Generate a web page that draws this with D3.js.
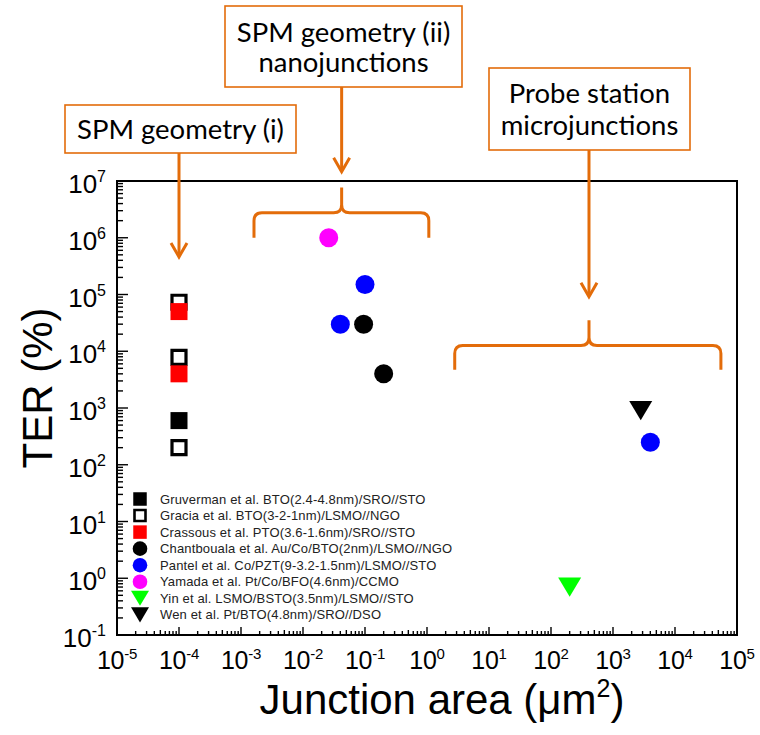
<!DOCTYPE html>
<html><head><meta charset="utf-8">
<script src="https://cdn.jsdelivr.net/npm/d3@7"></script>
<style>body{margin:0;background:#fff}svg{display:block}</style>
</head><body>
<svg id="c" width="760" height="735"></svg>
<script>
// ---------- data ----------
const xTickExps = [-5,-4,-3,-2,-1,0,1,2,3,4,5];
const yTickExps = [-1,0,1,2,3,4,5,6,7];
const seriesNames = [
  "Gruverman et al. BTO(2.4-4.8nm)/SRO//STO",
  "Gracia et al. BTO(3-2-1nm)/LSMO//NGO",
  "Crassous et al. PTO(3.6-1.6nm)/SRO//STO",
  "Chantbouala et al. Au/Co/BTO(2nm)/LSMO//NGO",
  "Pantel et al. Co/PZT(9-3.2-1.5nm)/LSMO//STO",
  "Yamada et al. Pt/Co/BFO(4.6nm)/CCMO",
  "Yin et al. LSMO/BSTO(3.5nm)/LSMO//STO",
  "Wen et al. Pt/BTO(4.8nm)/SRO//DSO"
];
const seriesMarkers = ["square","openSquare","square","circle","circle","circle","triangleDown","triangleDown"];
const seriesColors = ["#000000","#000000","#ff0000","#000000","#0000ff","#ff00ff","#00ff00","#000000"];
const gruvermanX = [1e-4],               gruvermanY = [600];
const graciaX = [1e-4, 1e-4, 1e-4],      graciaY = [73000, 7800, 200];
const crassousX = [1e-4, 1e-4],          crassousY = [50000, 4000];
const chantboualaX = [0.095, 0.2],       chantboualaY = [30000, 4000];
const pantelX = [0.04, 0.1, 4000],       pantelY = [30000, 150000, 250];
const yamadaX = [0.026],                 yamadaY = [1e6];
const yinX = [200],                      yinY = [0.7];
const wenX = [2800],                     wenY = [900];
const seriesX = [gruvermanX, graciaX, crassousX, chantboualaX, pantelX, yamadaX, yinX, wenX];
const seriesY = [gruvermanY, graciaY, crassousY, chantboualaY, pantelY, yamadaY, yinY, wenY];
const xTitle = "Junction area (\u03bcm", xTitleSup = "2", xTitleEnd = ")";
const yTitle = "TER (%)";
const annotationTexts = [["SPM geometry (i)"], ["SPM geometry (ii)", "nanojunctions"], ["Probe station", "microjunctions"]];
// annotation anchors in data space: arrow x, arrow tip y; brace x-range, brace y levels (end, flat, cusp)
const arrowX = [1e-4, 0.042, 410];
const arrowTipY = [4.6e5, 1.45e7, 9.1e4];
const braceX0 = [null, 1.62e-3, 2.8];
const braceX1 = [null, 1.07, 5.5e4];
const braceEndY = [null, 1e6, 4700];
const braceFlatY = [null, 2.75e6, 12600];
const braceCuspY = [null, 7.7e6, 35000];

// ---------- layout ----------
const P = {l:117, t:181, r:737, b:635};
const ORANGE = "#e36c0a";
const boxes = [
  {x:65, y:105, w:231, h:48, lines:[139]},
  {x:225, y:6, w:237, h:81, lines:[42, 72]},
  {x:489, y:68, w:201, h:82, lines:[103, 135]}
];

const svg = d3.select("#c");
const x = d3.scaleLog().domain([1e-5, 1e5]).range([P.l, P.r]);
const y = d3.scaleLog().domain([1e-1, 1e7]).range([P.b, P.t]);

// ---------- markers ----------
function markerPath(type, cx, cy, s) {
  if (type === "square" || type === "openSquare") {
    const h = s/2; return `M${cx-h},${cy-h}H${cx+h}V${cy+h}H${cx-h}Z`;
  }
  if (type === "triangleDown") {
    const w = s/2, hh = s*0.42;
    return `M${cx-w},${cy-hh}L${cx+w},${cy-hh}L${cx},${cy+hh}Z`;
  }
}
function drawMarker(g, type, color, cx, cy, big) {
  if (type === "circle") {
    g.append("circle").attr("cx", cx).attr("cy", cy).attr("r", big ? 9.5 : 7.3).attr("fill", color);
  } else if (type === "openSquare") {
    const s = big ? 14 : 11;
    g.append("path").attr("d", markerPath("square", cx, cy, s)).attr("fill", "#fff")
      .attr("stroke", color).attr("stroke-width", big ? 3.2 : 2.6);
  } else if (type === "square") {
    g.append("path").attr("d", markerPath("square", cx, cy, big ? 17 : 13.5)).attr("fill", color);
  } else {
    g.append("path").attr("d", markerPath(type, cx, cy, big ? 23 : 18)).attr("fill", color);
  }
}

// ---------- frame + ticks ----------
const axG = svg.append("g");
for (let e = -1; e < 7; e++) for (let m = 1; m <= 9; m++) {
  const v = m * Math.pow(10, e), len = m === 1 ? 11 : 6;
  axG.append("line").attr("x1", P.l).attr("x2", P.l + len).attr("y1", y(v)).attr("y2", y(v))
    .attr("stroke", "#000").attr("stroke-width", 1.4);
}
for (let e = -5; e < 5; e++) for (let m = 1; m <= 9; m++) {
  const v = m * Math.pow(10, e), len = m === 1 ? 8 : (m === 5 ? 5 : 4);
  axG.append("line").attr("x1", x(v)).attr("x2", x(v)).attr("y1", P.b).attr("y2", P.b - len)
    .attr("stroke", "#000").attr("stroke-width", 1.4);
}
axG.append("rect").attr("x", P.l).attr("y", P.t).attr("width", P.r - P.l).attr("height", P.b - P.t)
  .attr("fill", "none").attr("stroke", "#000").attr("stroke-width", 2);

const FONT = "'Liberation Sans', Arial, sans-serif";
yTickExps.forEach(e => {
  const t = axG.append("text").attr("x", 106).attr("y", y(Math.pow(10, e)) + 12)
    .attr("text-anchor", "end").attr("font-family", FONT).attr("font-size", 26).attr("fill", "#000");
  t.append("tspan").text("10");
  t.append("tspan").attr("font-size", 16).attr("dy", -11).text(String(e));
});
xTickExps.forEach(e => {
  const t = axG.append("text").attr("x", x(Math.pow(10, e))).attr("y", 669)
    .attr("text-anchor", "middle").attr("font-family", FONT).attr("font-size", 25).attr("fill", "#000")
    .attr("letter-spacing", -0.3);
  t.append("tspan").text("10");
  t.append("tspan").attr("font-size", 15).attr("dy", -10).text(String(e));
});

// titles
svg.append("text").attr("transform", "translate(52,388) rotate(-90)").attr("text-anchor", "middle")
  .attr("font-family", FONT).attr("font-size", 42).text(yTitle);
const xt = svg.append("text").attr("x", 442).attr("y", 714).attr("text-anchor", "middle")
  .attr("font-family", FONT).attr("font-size", 42);
xt.append("tspan").text(xTitle);
xt.append("tspan").attr("font-size", 25).attr("dy", -17).text(xTitleSup);
xt.append("tspan").attr("dy", 17).text(xTitleEnd);

// ---------- data points ----------
const ptG = svg.append("g");
seriesNames.forEach((n, i) => {
  seriesX[i].forEach((xv, j) => drawMarker(ptG, seriesMarkers[i], seriesColors[i], x(xv), y(seriesY[i][j]), true));
});

// ---------- legend ----------
const lgG = svg.append("g");
seriesNames.forEach((n, i) => {
  const cy = 499 + i * 16.55;
  drawMarker(lgG, seriesMarkers[i], seriesColors[i], 140, cy, false);
  lgG.append("text").attr("x", 160).attr("y", cy + 4.5).attr("font-family", FONT)
    .attr("font-size", 13).attr("letter-spacing", 0.15).attr("fill", "#222").text(n);
});

// ---------- annotations ----------
const anG = svg.append("g");
boxes.forEach((b, i) => {
  anG.append("rect").attr("x", b.x).attr("y", b.y).attr("width", b.w).attr("height", b.h)
    .attr("fill", "#fff").attr("stroke", ORANGE).attr("stroke-width", 1.6);
  annotationTexts[i].forEach((ln, k) => {
    anG.append("text").attr("x", b.x + b.w / 2).attr("y", b.lines[k]).attr("text-anchor", "middle")
      .attr("font-family", "Lato, 'Open Sans', sans-serif").attr("font-size", 27.5).attr("fill", "#000").text(ln);
  });
  const ax = x(arrowX[i]), tip = y(arrowTipY[i]);
  anG.append("line").attr("x1", ax).attr("x2", ax).attr("y1", b.y + b.h).attr("y2", tip - 1)
    .attr("stroke", ORANGE).attr("stroke-width", 3);
  anG.append("path").attr("d", `M${ax-8},${tip-14}L${ax},${tip}L${ax+8},${tip-14}`)
    .attr("fill", "none").attr("stroke", ORANGE).attr("stroke-width", 3).attr("stroke-linejoin", "miter");
  if (braceX0[i] !== null) {
    const x0 = x(braceX0[i]), x1 = x(braceX1[i]), xm = ax;
    const ye = y(braceEndY[i]), yf = y(braceFlatY[i]), yc = y(braceCuspY[i]), r = 8;
    const d = `M${x0},${ye}L${x0},${yf+r}Q${x0},${yf} ${x0+r},${yf}L${xm-r},${yf}Q${xm},${yf} ${xm},${yf-r}L${xm},${yc}` +
              `M${xm},${yc}L${xm},${yf-r}Q${xm},${yf} ${xm+r},${yf}L${x1-r},${yf}Q${x1},${yf} ${x1},${yf+r}L${x1},${ye}`;
    anG.append("path").attr("d", d).attr("fill", "none").attr("stroke", ORANGE).attr("stroke-width", 3);
  }
});
</script>
</body></html>
